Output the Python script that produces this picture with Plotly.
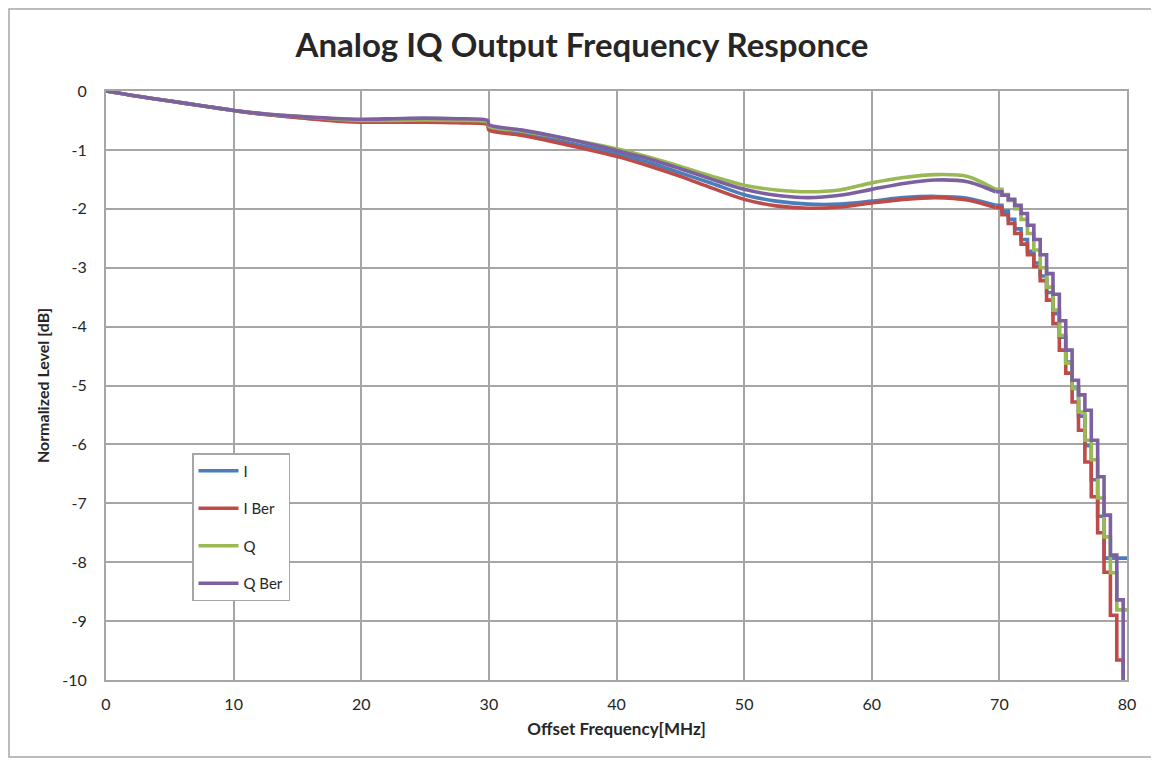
import plotly.graph_objects as go

# ---- data ----
smooth_x = [0, 2.5, 5, 7.5, 10, 12.5, 15, 17.5, 20, 22.5, 25, 27.5, 29.9, 30, 32.5, 35, 37.5, 40,
            42.5, 45, 47.5, 50, 52.5, 55, 57.5, 60, 62.5, 65, 67.5, 69.7]

i_smooth = [0, -0.09, -0.17, -0.25, -0.33, -0.40, -0.45, -0.49, -0.52, -0.52, -0.51, -0.52, -0.55, -0.63,
            -0.72, -0.82, -0.94, -1.06, -1.21, -1.39, -1.57, -1.76, -1.87, -1.92, -1.92, -1.87, -1.81,
            -1.79, -1.82, -1.94]
iber_smooth = [0, -0.09, -0.17, -0.25, -0.33, -0.40, -0.45, -0.50, -0.53, -0.53, -0.53, -0.54, -0.57, -0.66,
               -0.75, -0.86, -0.98, -1.11, -1.27, -1.45, -1.65, -1.84, -1.95, -1.99, -1.97, -1.90, -1.84,
               -1.81, -1.85, -1.98]
q_smooth = [0, -0.09, -0.17, -0.25, -0.33, -0.39, -0.43, -0.47, -0.50, -0.50, -0.49, -0.50, -0.53, -0.60,
            -0.68, -0.77, -0.87, -0.98, -1.12, -1.28, -1.45, -1.60, -1.68, -1.71, -1.68, -1.56, -1.47,
            -1.42, -1.45, -1.67]
qber_smooth = [0, -0.09, -0.17, -0.25, -0.33, -0.39, -0.43, -0.46, -0.48, -0.47, -0.46, -0.47, -0.50, -0.57,
               -0.66, -0.76, -0.88, -1.01, -1.15, -1.32, -1.50, -1.67, -1.77, -1.81, -1.77, -1.67, -1.57,
               -1.51, -1.54, -1.71]

tail_x = [69.7, 70.2, 70.7, 71.2, 71.7, 72.2, 72.7, 73.2, 73.7, 74.2, 74.7, 75.2, 75.7, 76.2, 76.7,
          77.2, 77.7, 78.2, 78.7, 79.2, 79.7, 80.0]

i_tail = [-1.94, -2.04, -2.18, -2.34, -2.52, -2.72, -2.92, -3.14, -3.42, -3.78, -4.18, -4.60, -5.05, -5.52,
          -6.02, -6.60, -7.22, -7.93, -7.93, -7.93, -7.93, -7.93]
iber_tail = [-1.98, -2.10, -2.25, -2.42, -2.60, -2.78, -2.98, -3.22, -3.55, -3.95, -4.40, -4.79, -5.28, -5.76,
             -6.30, -6.89, -7.50, -8.17, -8.90, -9.66, -10.5, -10.5]
q_tail = [-1.67, -1.76, -1.86, -2.00, -2.18, -2.42, -2.70, -3.00, -3.33, -3.72, -4.15, -4.62, -5.05, -5.45,
          -5.93, -6.26, -6.91, -7.57, -8.18, -8.81, -8.81, -8.81]
qber_tail = [-1.71, -1.77, -1.84, -1.94, -2.08, -2.28, -2.52, -2.78, -3.10, -3.45, -3.90, -4.40, -4.91, -5.16,
             -5.42, -5.93, -6.55, -7.20, -7.88, -8.64, -10.5, -10.5]

series_names = ["I", "I Ber", "Q", "Q Ber"]
series_colors = ["#4a7ebb", "#be4b48", "#98b954", "#7d60a0"]
smooth_vals = [i_smooth, iber_smooth, q_smooth, qber_smooth]
tail_vals = [i_tail, iber_tail, q_tail, qber_tail]

x_ticks = [0, 10, 20, 30, 40, 50, 60, 70, 80]
y_ticks = [0, -1, -2, -3, -4, -5, -6, -7, -8, -9, -10]
y_tick_labels = ["0", "-1", "-2", "-3", "-4", "-5", "-6", "-7", "-8", "-9", "-10"]

title_text = "Analog IQ Output Frequency Responce"
x_title = "Offset Frequency[MHz]"
y_title = "Normalized Level [dB]"

# ---- figure ----
FONT = "Lato, 'Open Sans', sans-serif"
fig = go.Figure()
for name, color, sv, tv in zip(series_names, series_colors, smooth_vals, tail_vals):
    fig.add_trace(go.Scatter(x=smooth_x, y=sv, mode="lines", name=name, legendgroup=name,
                             line=dict(color=color, width=3.6, shape="spline", smoothing=0.8)))
    fig.add_trace(go.Scatter(x=tail_x, y=tv, mode="lines", name=name, legendgroup=name,
                             showlegend=False, line=dict(color=color, width=3.6, shape="hv")))

# page is offset by the 8px body margin
OFF = 8
W, H = 1159 - OFF, 764 - OFF
ml, mr, mt, mb = 106 - OFF, 32, 91 - OFF, 84
pw, ph = W - ml - mr, H - mt - mb

def px(xpage):
    return (xpage - OFF - ml) / pw

def py(ypage):
    return (H - mb - (ypage - OFF)) / ph

fig.update_layout(
    width=W, height=H,
    margin=dict(l=ml, r=mr, t=mt, b=mb, pad=0),
    paper_bgcolor="white", plot_bgcolor="white",
    font=dict(family=FONT, size=15, color="#333333"),
    title=dict(text=f"<b>{title_text}</b>", x=(582 - OFF) / W, xanchor="center",
               y=1 - (45 - OFF) / H, yanchor="middle",
               font=dict(family=FONT, size=33, color="#262626")),
    xaxis=dict(range=[0, 80], tickvals=x_ticks, showgrid=True, gridcolor="#a6a6a6", gridwidth=2,
               showline=True, linecolor="#a6a6a6", linewidth=2, mirror=True, zeroline=False,
               ticks="", ticklabelstandoff=9, tickfont=dict(size=16, color="#262626"),
               title=dict(text=f"<b>{x_title}</b>", standoff=11, font=dict(size=17, color="#262626"))),
    yaxis=dict(range=[-10, 0], tickvals=y_ticks, ticktext=y_tick_labels, showgrid=True,
               gridcolor="#a6a6a6", gridwidth=2,
               showline=True, linecolor="#a6a6a6", linewidth=2, mirror=True, zeroline=False,
               ticks="", ticklabelstandoff=14, tickfont=dict(size=16, color="#262626"),
               title=dict(text=f"<b>{y_title}</b>", standoff=9, font=dict(size=16, color="#262626"))),
    legend=dict(x=px(192), y=py(453), xanchor="left", yanchor="top",
                bgcolor="white", bordercolor="#a6a6a6", borderwidth=1.5,
                font=dict(size=15, color="#262626"), tracegroupgap=15, itemwidth=40),
    showlegend=True,
    shapes=[dict(type="rect", xref="paper", yref="paper", x0=px(9), x1=px(1152), y0=py(757), y1=py(9),
                 line=dict(color="#a6a6a6", width=1.5), fillcolor="rgba(0,0,0,0)", layer="below")],
)

fig.write_html("out.html")
